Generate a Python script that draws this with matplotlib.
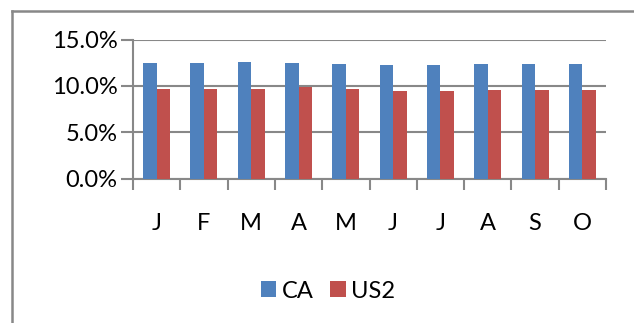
import matplotlib.pyplot as plt
import numpy as np
from matplotlib.lines import Line2D
from matplotlib.ticker import PercentFormatter

months = ['J', 'F', 'M', 'A', 'M', 'J', 'J', 'A', 'S', 'O']
ca = [12.5, 12.5, 12.6, 12.5, 12.4, 12.3, 12.3, 12.4, 12.4, 12.4]
us2 = [9.7, 9.7, 9.7, 9.9, 9.7, 9.5, 9.5, 9.6, 9.6, 9.6]

plt.rcParams['font.family'] = ['Lato', 'DejaVu Sans']

fig = plt.figure(figsize=(6.34, 3.23), dpi=100)
ax = fig.add_axes([133 / 634, 1 - 178.7 / 323, 473 / 634, 139.2 / 323])

x = np.arange(len(months))
w = 0.285
ax.bar(x - w / 2, ca, w, color='#4F81BD', label='CA', zorder=3)
ax.bar(x + w / 2, us2, w, color='#C0504D', label='US2', zorder=3)

grid_col = '#888888'
ax.set_xlim(-0.5, len(months) - 0.5)
ax.set_ylim(0, 15)
ax.set_yticks([0, 5, 10, 15])
ax.yaxis.set_major_formatter(PercentFormatter(decimals=1))
ax.yaxis.grid(True, color=grid_col, linewidth=1.5, zorder=0)

# category ticks sit on the boundaries, labels in the middle
ax.set_xticks(np.arange(len(months) + 1) - 0.5)
ax.set_xticklabels([])
ax.set_xticks(x, minor=True)
ax.set_xticklabels(months, minor=True)
ax.tick_params(axis='x', which='major', length=8, width=1.5, color=grid_col)
ax.tick_params(axis='x', which='minor', length=0, pad=25, labelsize=17)
ax.tick_params(axis='y', length=9, width=1.5, color=grid_col, labelsize=17, pad=2)

for side in ['top', 'right']:
    ax.spines[side].set_visible(False)
for side in ['left', 'bottom']:
    ax.spines[side].set_color(grid_col)
    ax.spines[side].set_linewidth(1.5)

# chart frame (only left and top edges fall inside the image)
fig.add_artist(Line2D([12 / 634, 12 / 634], [0, 1 - 11 / 323],
                      transform=fig.transFigure, color=grid_col, linewidth=1.8))
fig.add_artist(Line2D([12 / 634, 1], [1 - 11 / 323, 1 - 11 / 323],
                      transform=fig.transFigure, color=grid_col, linewidth=1.8))

fig.legend(loc='center', bbox_to_anchor=(328 / 634, 1 - 291 / 323), ncol=2,
           frameon=False, fontsize=17, handlelength=0.65, handleheight=0.65,
           handletextpad=0.25, columnspacing=0.7, borderpad=0.2)

fig.savefig('out.png', dpi=100)
